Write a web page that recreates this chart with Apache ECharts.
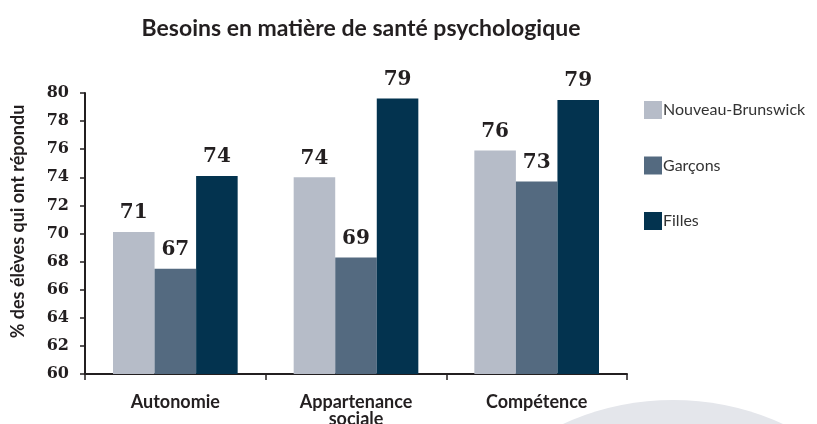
<!DOCTYPE html>
<html><head><meta charset="utf-8">
<script src="https://cdn.jsdelivr.net/npm/echarts@6/dist/echarts.min.js"></script>
<style>html,body{margin:0;padding:0;background:#fff}#c{width:817px;height:424px}</style>
</head><body><div id="c"></div>
<script>
const title = "Besoins en matière de santé psychologique";
const yAxisName = "% des élèves qui ont répondu";
const categories = ["Autonomie", "Appartenance\nsociale", "Compétence"];
const seriesNames = ["Nouveau-Brunswick", "Garçons", "Filles"];
const nbValues = [70.1, 74.0, 75.9];
const garconsValues = [67.5, 68.3, 73.7];
const fillesValues = [74.1, 79.6, 79.5];
const nbLabels = [71, 74, 76];
const garconsLabels = [67, 69, 73];
const fillesLabels = [74, 79, 79];
const colors = ["#b6bcc8", "#546a80", "#03334f"];

const chart = echarts.init(document.getElementById('c'), null, {renderer: 'canvas'});
const sans = 'Lato';
function mk(name, vals, labels, color) {
  return {
    name: name, type: 'bar', data: vals, barGap: '0%', barCategoryGap: '31%',
    itemStyle: {color: color},
    label: {show: true, position: 'top', distance: 9,
      formatter: p => String(labels[p.dataIndex]),
      fontFamily: 'DejaVu Serif', fontWeight: 'bold', fontSize: 20, color: '#231f20'}
  };
}
chart.setOption({
  animation: false,
  backgroundColor: '#fff',
  graphic: [{type: 'circle', z: -10, silent: true, shape: {cx: 673, cy: 664, r: 264},
    style: {fill: '#e4e6eb'}}],
  title: {text: title, left: 356, textAlign: 'center', top: 12,
    textStyle: {fontFamily: sans, fontWeight: 'bold', fontSize: 23, color: '#231f20'}},
  legend: {orient: 'vertical', left: 639, top: 96, itemWidth: 18, itemHeight: 18, itemGap: 37.5,
    icon: 'rect', data: seriesNames,
    textStyle: {fontFamily: sans, fontSize: 16, color: '#333', padding: [0,0,0,-4]}},
  grid: {left: 85, right: 190, top: 93, bottom: 50, containLabel: false, outerBoundsMode: 'none'},
  xAxis: {type: 'category', data: categories,
    axisLine: {lineStyle: {color: '#231f20', width: 2}},
    axisTick: {show: true, length: 6, lineStyle: {color: '#231f20', width: 1.5},
      interval: 0},
    axisLabel: {margin: 20, fontFamily: sans, fontWeight: 'bold', fontSize: 18, color: '#231f20', lineHeight: 17}},
  yAxis: {type: 'value', min: 60, max: 80, interval: 2,
    name: yAxisName, nameLocation: 'middle', nameRotate: 90, nameGap: 58,
    nameTextStyle: {fontFamily: sans, fontWeight: 'bold', fontSize: 18, color: '#231f20', padding: [0,0,0,24]},
    axisLine: {show: true, lineStyle: {color: '#231f20', width: 2}},
    axisTick: {show: true, length: 5, lineStyle: {color: '#231f20', width: 1.5}},
    splitLine: {show: false},
    axisLabel: {margin: 16, fontFamily: 'DejaVu Serif', fontWeight: 'bold', fontSize: 16, color: '#231f20'}},
  series: [
    mk(seriesNames[0], nbValues, nbLabels, colors[0]),
    mk(seriesNames[1], garconsValues, garconsLabels, colors[1]),
    mk(seriesNames[2], fillesValues, fillesLabels, colors[2])
  ]
});
</script></body></html>
